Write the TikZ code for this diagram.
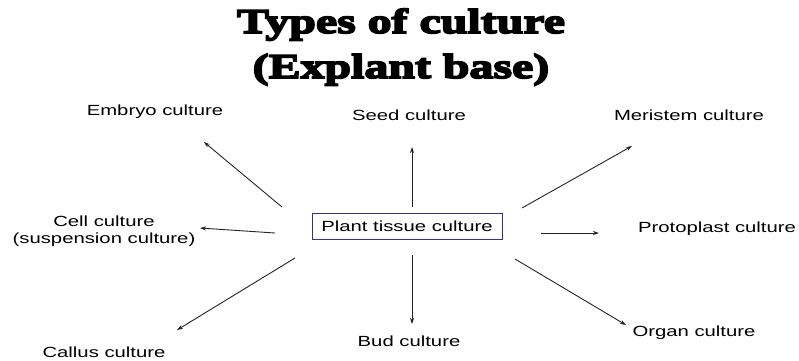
\documentclass[tikz,border=0pt]{standalone}
\usepackage{fontspec}
\setmainfont{Liberation Sans}[FakeStretch=1.38]
\newfontfamily\titlefont{Liberation Serif}[UprightFont={* Bold}, FakeBold=5, FakeStretch=1.38]
\usetikzlibrary{arrows.meta, positioning}
\definecolor{hubblue}{RGB}{50,50,140}
\definecolor{arrgray}{RGB}{35,35,35}

\begin{document}
\begin{tikzpicture}[
    x=1pt,
    y=-1pt,
    ->,
    >={Stealth[length=6pt,width=4pt]},
    lbl/.style={font=\fontsize{14.7}{16.5}\selectfont, inner sep=0pt, anchor=base},
    hub/.style={draw=hubblue, line width=1pt, minimum width=190pt, minimum height=26pt,
                inner sep=0pt, font=\fontsize{14.7}{16.5}\selectfont},
    ttl/.style={font=\titlefont\fontsize{34.7}{40}\selectfont, inner sep=0pt, anchor=base},
    arr/.style={draw=arrgray, line width=0.9pt},
]
    \useasboundingbox (0,0) rectangle (799,360);

    \node[ttl] (title1) at (401,33) {Types of culture};
    \node[ttl] (title2) at (401,78) {(Explant base)};

    \node[hub] (ptc) at (407,226) {Plant tissue culture};

    \node[lbl] (embryo)     at (155,115) {Embryo culture};
    \node[lbl] (seed)       at (409,120) {Seed culture};
    \node[lbl] (meristem)   at (689,120) {Meristem culture};
    \node[lbl, anchor=center, align=center]
               (cell)       at (104,231) {Cell culture\\(suspension culture)};
    \node[lbl] (protoplast) at (717,232) {Protoplast culture};
    \node[lbl] (callus)     at (104,357) {Callus culture};
    \node[lbl] (bud)        at (409,346) {Bud culture};
    \node[lbl] (organ)      at (694,336) {Organ culture};

    % arrow ends
    \coordinate (embryo-s)     at (282,207);
    \coordinate (embryo-e)     at (204,142);
    \coordinate (seed-s)       at (412,207);
    \coordinate (seed-e)       at (412,147);
    \coordinate (meristem-s)   at (522,208);
    \coordinate (meristem-e)   at (632,146);
    \coordinate (cell-s)       at (275,233);
    \coordinate (cell-e)       at (200,228);
    \coordinate (protoplast-s) at (541,233);
    \coordinate (protoplast-e) at (599,233);
    \coordinate (organ-s)      at (515,259);
    \coordinate (organ-e)      at (626,325);
    \coordinate (bud-s)        at (412,255);
    \coordinate (bud-e)        at (412,324);
    \coordinate (callus-s)     at (295,258);
    \coordinate (callus-e)     at (177,330);

    \path
        (embryo-s)     edge [arr] (embryo-e)
        (seed-s)       edge [arr] (seed-e)
        (meristem-s)   edge [arr] (meristem-e)
        (cell-s)       edge [arr] (cell-e)
        (protoplast-s) edge [arr] (protoplast-e)
        (organ-s)      edge [arr] (organ-e)
        (bud-s)        edge [arr] (bud-e)
        (callus-s)     edge [arr] (callus-e)
    ;
\end{tikzpicture}
\end{document}
